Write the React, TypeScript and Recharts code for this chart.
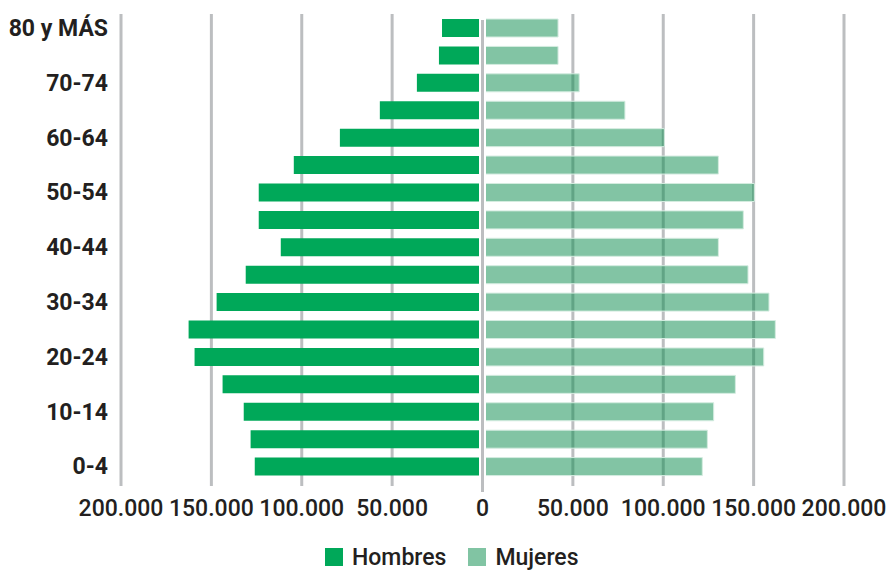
import {
  BarChart,
  Bar,
  XAxis,
  YAxis,
  CartesianGrid,
  ReferenceLine,
  Legend,
} from "recharts";

// age groups from youngest to oldest
const ageGroups = [
  "0-4", "5-9", "10-14", "15-19", "20-24", "25-29", "30-34", "35-39", "40-44",
  "45-49", "50-54", "55-59", "60-64", "65-69", "70-74", "75-79", "80 y MÁS",
];

const hombres = [
  126000, 128300, 132100, 143800, 159300, 162600, 147100, 131000, 111600,
  123800, 123800, 104400, 78900, 56800, 36300, 24100, 22400,
];

const mujeres = [
  121600, 124400, 127900, 139900, 155600, 162000, 158500, 146900, 130500,
  144300, 150400, 130500, 100600, 78800, 53500, 41800, 41800,
];

const xTicks = [-200000, -150000, -100000, -50000, 0, 50000, 100000, 150000, 200000];

const GREEN = "#00a859";
const LIGHT_GREEN = "#81c4a3";
const GRID = "#bcbec0";
const TEXT = "#231f20";
const FONT = "Roboto, 'Noto Sans', sans-serif";

// men go to the left of the axis, so they are stored negative
const data = ageGroups.map((age, i) => ({
  age,
  hombres: -hombres[i],
  mujeres: mujeres[i],
}));

const fmt = (v: number) =>
  String(Math.abs(v)).replace(/\B(?=(\d{3})+(?!\d))/g, ".");

// centre axis: a white band that separates both halves, then the grey line
const ZeroLine = (props: any) => {
  const { x1, x2 } = props;
  const top = Math.min(props.y1, props.y2);
  const bottom = Math.max(props.y1, props.y2);
  return (
    <g>
      <line x1={x1} x2={x2} y1={top} y2={bottom} stroke="#ffffff" strokeWidth={7} />
      <line x1={x1} x2={x2} y1={top + 6} y2={bottom + 12} stroke={GRID} strokeWidth={3} />
    </g>
  );
};

const LegendContent = () => (
  <div
    style={{
      display: "flex",
      alignItems: "center",
      height: 30,
      paddingLeft: 325,
      fontFamily: FONT,
      fontSize: 23,
      fontWeight: 500,
      color: TEXT,
    }}
  >
    {[
      { name: "Hombres", color: GREEN },
      { name: "Mujeres", color: LIGHT_GREEN },
    ].map((item) => (
      <span key={item.name} style={{ display: "flex", alignItems: "center", marginRight: 22 }}>
        <span style={{ width: 18, height: 18, background: item.color, marginRight: 9 }} />
        {item.name}
      </span>
    ))}
  </div>
);

export default function App() {
  return (
    <div style={{ position: "absolute", left: 0, top: 0, fontFamily: FONT }}>
      <BarChart
        width={891}
        height={573}
        data={data}
        layout="vertical"
        stackOffset="sign"
        margin={{ top: 14, right: 47, bottom: 0, left: 0 }}
      >
        <CartesianGrid horizontal={false} stroke={GRID} strokeWidth={3} />
        <XAxis
          type="number"
          domain={[-200000, 200000]}
          ticks={xTicks}
          tickFormatter={fmt}
          axisLine={false}
          tickLine={{ stroke: GRID, strokeWidth: 3 }}
          tickSize={6}
          tickMargin={14}
          height={63}
          interval={0}
          tick={{ fill: TEXT, fontSize: 23, fontWeight: 500, fontFamily: FONT }}
        />
        <YAxis
          type="category"
          dataKey="age"
          reversed
          width={121}
          interval={1}
          axisLine={false}
          tickLine={false}
          tickSize={0}
          tickMargin={13}
          tick={{ fill: TEXT, fontSize: 23, fontWeight: 700, fontFamily: FONT }}
        />
        <Bar
          dataKey="hombres"
          name="Hombres"
          stackId="p"
          barSize={18}
          fill={GREEN}
          isAnimationActive={false}
        />
        <Bar
          dataKey="mujeres"
          name="Mujeres"
          stackId="p"
          barSize={18}
          fill="#058949"
          fillOpacity={0.5}
          stroke="#d4ece0"
          strokeWidth={1}
          isAnimationActive={false}
        />
        <ReferenceLine x={0} shape={ZeroLine} />
        <Legend
          verticalAlign="bottom"
          content={LegendContent}
          wrapperStyle={{ top: 542, bottom: "auto", left: 0, width: 891, height: 30 }}
        />
      </BarChart>
    </div>
  );
}
